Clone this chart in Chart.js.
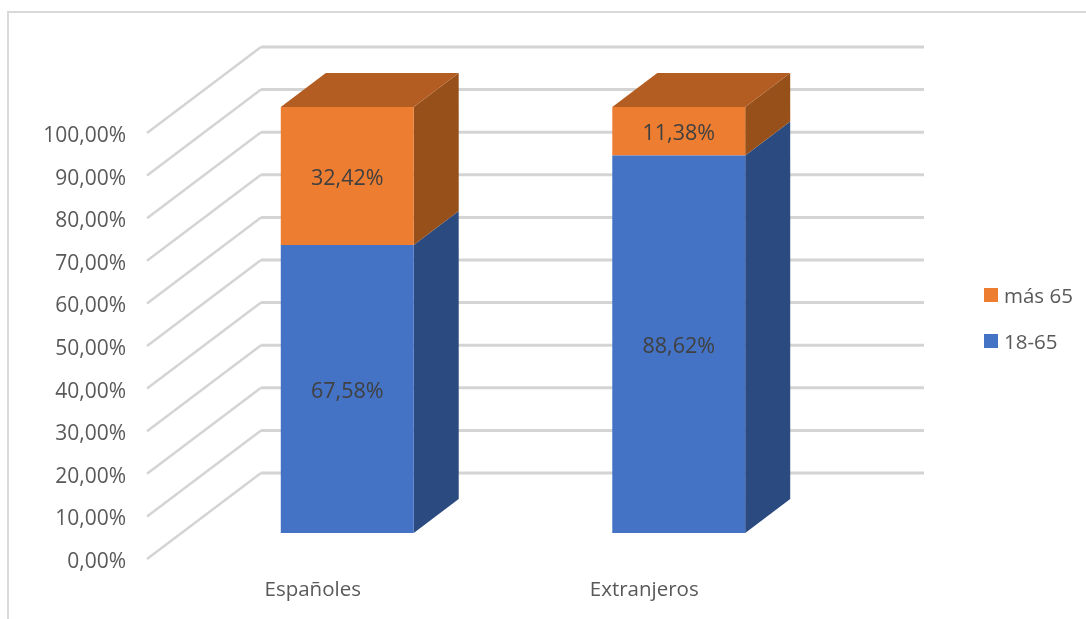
<!DOCTYPE html>
<html>
<head>
<meta charset="utf-8">
<title>Españoles y extranjeros</title>
<script src="https://cdn.jsdelivr.net/npm/chart.js@4/dist/chart.umd.min.js"></script>
<style>
  html, body { margin: 0; padding: 0; background: #fff; overflow: hidden; }
  #marco { position: absolute; left: 7px; top: 11px; width: 1079px; height: 608px; box-sizing: border-box;
           border-left: 2px solid #d9d9d9; border-top: 2px solid #d9d9d9; }
  #lienzo { position: absolute; left: 0; top: 0; }
</style>
</head>
<body>
<div id="marco"></div>
<canvas id="lienzo" width="1086" height="619"></canvas>
<script>
const categorias = ['Españoles', 'Extranjeros'];
const adultos = [67.58, 88.62];
const mayores = [32.42, 11.38];
const ticks100 = [0, 10, 20, 30, 40, 50, 60, 70, 80, 90, 100];

const FUENTE = '"Open Sans", sans-serif';
const fmt = v => v.toFixed(2).replace('.', ',') + '%';

// profundidad de la pared y de las barras
const PARED = { dx: 114, dy: -86, fin: 924 };
const BARRA = { sx: 34.5, sy: -26, dx: 45, dy: -34 };

const pared3d = {
  id: 'pared3d',
  beforeDatasetsDraw(chart) {
    const { ctx, chartArea } = chart;
    const y = chart.scales.y;
    ctx.save();
    ctx.strokeStyle = '#d4d4d4';
    ctx.lineCap = 'butt';
    ticks100.forEach(t => {
      const py = y.getPixelForValue(t);
      ctx.lineWidth = 2.5;
      ctx.beginPath();
      ctx.moveTo(chartArea.left, py);
      ctx.lineTo(chartArea.left + PARED.dx, py + PARED.dy);
      ctx.stroke();
      ctx.lineWidth = 3;
      ctx.beginPath();
      ctx.moveTo(chartArea.left + PARED.dx, py + PARED.dy);
      ctx.lineTo(PARED.fin, py + PARED.dy);
      ctx.stroke();
    });
    ctx.restore();

    // caras laterales y superior, las frontales las pinta Chart.js
    ctx.save();
    ctx.translate(BARRA.sx, BARRA.sy);
    chart.data.datasets.forEach((ds, i) => {
      chart.getDatasetMeta(i).data.forEach(bar => {
        const { x, y: top, base, width } = bar.getProps(['x', 'y', 'base', 'width'], true);
        const r = x + width / 2, l = x - width / 2;
        ctx.fillStyle = ds.colorLado;
        ctx.beginPath();
        ctx.moveTo(r, base);
        ctx.lineTo(r + BARRA.dx, base + BARRA.dy);
        ctx.lineTo(r + BARRA.dx, top + BARRA.dy);
        ctx.lineTo(r, top);
        ctx.closePath();
        ctx.fill();
        if (i === chart.data.datasets.length - 1) {
          ctx.fillStyle = ds.colorTapa;
          ctx.beginPath();
          ctx.moveTo(l, top);
          ctx.lineTo(l + BARRA.dx, top + BARRA.dy);
          ctx.lineTo(r + BARRA.dx, top + BARRA.dy);
          ctx.lineTo(r, top);
          ctx.closePath();
          ctx.fill();
        }
      });
    });
  },
  afterDatasetsDraw(chart) {
    const { ctx } = chart;
    // etiquetas de datos, todavia dentro del translate
    ctx.font = '21.5px ' + FUENTE;
    ctx.fillStyle = '#404040';
    ctx.textAlign = 'center';
    ctx.textBaseline = 'middle';
    chart.data.datasets.forEach((ds, i) => {
      chart.getDatasetMeta(i).data.forEach((bar, j) => {
        const { x, y: top, base } = bar.getProps(['x', 'y', 'base'], true);
        ctx.fillText(fmt(ds.data[j]), x, (top + base) / 2 + 3);
      });
    });
    ctx.restore();
  }
};

const leyenda = {
  id: 'leyenda',
  afterDraw(chart) {
    const { ctx } = chart;
    ctx.save();
    ctx.font = '20.5px ' + FUENTE;
    ctx.textAlign = 'left';
    ctx.textBaseline = 'middle';
    [...chart.data.datasets].reverse().forEach((ds, i) => {
      const cy = 295 + i * 46;
      ctx.fillStyle = ds.backgroundColor;
      ctx.fillRect(984, cy - 7, 14, 14);
      ctx.fillStyle = '#595959';
      ctx.fillText(ds.label, 1004, cy + 2);
    });
    ctx.restore();
  }
};

new Chart(document.getElementById('lienzo'), {
  type: 'bar',
  data: {
    labels: categorias,
    datasets: [
      { label: '18-65', data: adultos, backgroundColor: '#4472c4', colorLado: '#2a4a80', colorTapa: '#335593' },
      { label: 'más 65', data: mayores, backgroundColor: '#ed7d31', colorLado: '#975019', colorTapa: '#b35d22' }
    ]
  },
  options: {
    responsive: false,
    animation: false,
    categoryPercentage: 1,
    barPercentage: 0.401,
    layout: { autoPadding: false, padding: { left: 0, top: 133, right: 276, bottom: 0 } },
    plugins: { legend: { display: false }, tooltip: { enabled: false } },
    scales: {
      x: {
        stacked: true,
        grid: { display: false },
        border: { display: false },
        ticks: { color: '#595959', font: { family: FUENTE, size: 20.5 }, padding: 11, maxRotation: 0 },
        afterFit(s) { s.height = 60; }
      },
      y: {
        stacked: true,
        min: 0,
        max: 100,
        grid: { display: false },
        border: { display: false },
        afterBuildTicks(s) { s.ticks = ticks100.map(value => ({ value })); },
        ticks: { color: '#595959', font: { family: FUENTE, size: 21 }, padding: 13, labelOffset: 3, callback: v => fmt(v) },
        afterFit(s) { s.width = 147; }
      }
    }
  },
  plugins: [pared3d, leyenda]
});
</script>
</body>
</html>
